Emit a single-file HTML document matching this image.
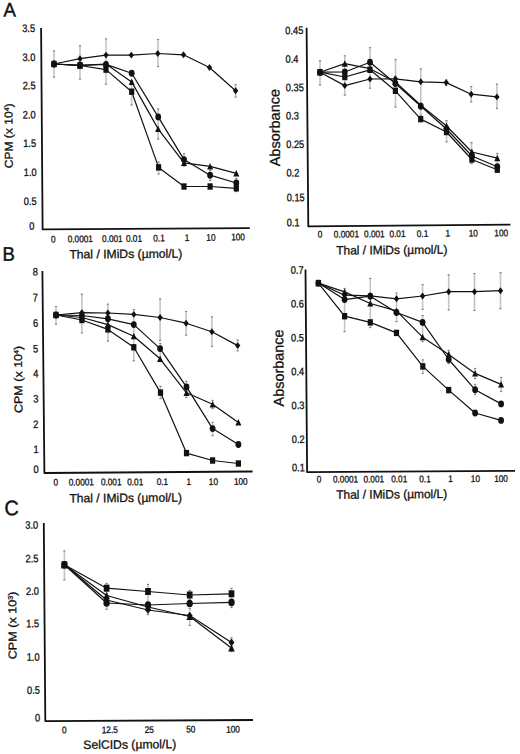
<!DOCTYPE html>
<html><head><meta charset="utf-8"><style>
html,body{margin:0;padding:0;background:#fff;}
body{width:520px;height:754px;overflow:hidden;}
svg{display:block;}
text{font-family:"Liberation Sans", sans-serif;fill:#111;stroke:#111;stroke-width:0.3px;}
</style></head><body>
<svg width="520" height="754" viewBox="0 0 520 754">
<rect width="520" height="754" fill="#fff"/>
<text transform="translate(3.40,16.60) rotate(-0.4) scale(0.95,1)" font-size="19.6" text-anchor="start" style="stroke-width:0.45px">A</text>
<text transform="translate(2.60,260.80) rotate(-0.4) scale(0.95,1)" font-size="19.6" text-anchor="start" style="stroke-width:0.45px">B</text>
<text transform="translate(4.40,515.30) rotate(-0.4) scale(0.94,1)" font-size="21.0" text-anchor="start" style="stroke-width:0.45px">C</text>
<polyline points="41.10,28.10 42.60,229.30 249.80,228.10" fill="none" stroke="#111" stroke-width="1.8" stroke-linejoin="round"/>
<text transform="translate(28.60,32.00) rotate(-0.4) scale(0.86,1)" font-size="10.8" text-anchor="middle">3.5</text>
<text transform="translate(28.90,60.90) rotate(-0.4) scale(0.86,1)" font-size="10.8" text-anchor="middle">3.0</text>
<text transform="translate(29.10,89.30) rotate(-0.4) scale(0.86,1)" font-size="10.8" text-anchor="middle">2.5</text>
<text transform="translate(29.30,118.40) rotate(-0.4) scale(0.86,1)" font-size="10.8" text-anchor="middle">2.0</text>
<text transform="translate(29.60,147.00) rotate(-0.4) scale(0.86,1)" font-size="10.8" text-anchor="middle">1.5</text>
<text transform="translate(30.30,175.90) rotate(-0.4) scale(0.86,1)" font-size="10.8" text-anchor="middle">1.0</text>
<text transform="translate(30.10,205.00) rotate(-0.4) scale(0.86,1)" font-size="10.8" text-anchor="middle">0.5</text>
<text transform="translate(31.80,229.70) rotate(-0.4) scale(0.86,1)" font-size="10.8" text-anchor="middle">0</text>
<text transform="translate(53.30,242.38) rotate(-0.4) scale(0.86,1)" font-size="9.6" text-anchor="middle">0</text>
<text transform="translate(80.30,242.18) rotate(-0.4) scale(0.86,1)" font-size="9.6" text-anchor="middle">0.0001</text>
<text transform="translate(112.40,241.98) rotate(-0.4) scale(0.86,1)" font-size="9.6" text-anchor="middle">0.001</text>
<text transform="translate(134.00,241.78) rotate(-0.4) scale(0.86,1)" font-size="9.6" text-anchor="middle">0.01</text>
<text transform="translate(159.00,241.38) rotate(-0.4) scale(0.86,1)" font-size="9.6" text-anchor="middle">0.1</text>
<text transform="translate(187.00,240.98) rotate(-0.4) scale(0.86,1)" font-size="9.6" text-anchor="middle">1</text>
<text transform="translate(210.90,240.68) rotate(-0.4) scale(0.86,1)" font-size="9.6" text-anchor="middle">10</text>
<text transform="translate(238.00,240.28) rotate(-0.4) scale(0.86,1)" font-size="9.6" text-anchor="middle">100</text>
<text transform="translate(69.40,258.45) rotate(-0.4) scale(1.0,1)" font-size="12.2" text-anchor="start" textLength="113.0" lengthAdjust="spacingAndGlyphs">Thal / IMiDs (µmol/L)</text>
<text transform="translate(12.80,168.30) rotate(-90.4)" x="0" y="0" font-size="11.4" textLength="64.90" lengthAdjust="spacingAndGlyphs">CPM (x 10<tspan font-size="6.6" dy="-3.4">4</tspan><tspan dy="3.4">)</tspan></text>
<line x1="54.00" y1="50.60" x2="54.00" y2="77.50" stroke="#c4c4c4" stroke-width="1.6"/>
<line x1="52.90" y1="51.00" x2="55.10" y2="51.00" stroke="#808080" stroke-width="1.1"/>
<line x1="52.90" y1="77.10" x2="55.10" y2="77.10" stroke="#808080" stroke-width="1.1"/>
<line x1="80.00" y1="45.40" x2="80.00" y2="79.50" stroke="#c4c4c4" stroke-width="1.6"/>
<line x1="78.90" y1="45.80" x2="81.10" y2="45.80" stroke="#808080" stroke-width="1.1"/>
<line x1="78.90" y1="79.10" x2="81.10" y2="79.10" stroke="#808080" stroke-width="1.1"/>
<line x1="106.00" y1="38.50" x2="106.00" y2="84.60" stroke="#c4c4c4" stroke-width="1.6"/>
<line x1="104.90" y1="38.90" x2="107.10" y2="38.90" stroke="#808080" stroke-width="1.1"/>
<line x1="104.90" y1="84.20" x2="107.10" y2="84.20" stroke="#808080" stroke-width="1.1"/>
<line x1="131.60" y1="80.00" x2="131.60" y2="105.40" stroke="#c4c4c4" stroke-width="1.6"/>
<line x1="130.50" y1="80.40" x2="132.70" y2="80.40" stroke="#808080" stroke-width="1.1"/>
<line x1="130.50" y1="105.00" x2="132.70" y2="105.00" stroke="#808080" stroke-width="1.1"/>
<line x1="158.00" y1="39.20" x2="158.00" y2="67.00" stroke="#c4c4c4" stroke-width="1.6"/>
<line x1="156.90" y1="39.60" x2="159.10" y2="39.60" stroke="#808080" stroke-width="1.1"/>
<line x1="156.90" y1="66.60" x2="159.10" y2="66.60" stroke="#808080" stroke-width="1.1"/>
<line x1="158.20" y1="108.50" x2="158.20" y2="139.40" stroke="#c4c4c4" stroke-width="1.6"/>
<line x1="157.10" y1="108.90" x2="159.30" y2="108.90" stroke="#808080" stroke-width="1.1"/>
<line x1="157.10" y1="139.00" x2="159.30" y2="139.00" stroke="#808080" stroke-width="1.1"/>
<line x1="158.60" y1="161.70" x2="158.60" y2="174.40" stroke="#c4c4c4" stroke-width="1.6"/>
<line x1="157.50" y1="162.10" x2="159.70" y2="162.10" stroke="#808080" stroke-width="1.1"/>
<line x1="157.50" y1="174.00" x2="159.70" y2="174.00" stroke="#808080" stroke-width="1.1"/>
<line x1="184.00" y1="153.30" x2="184.00" y2="166.50" stroke="#c4c4c4" stroke-width="1.6"/>
<line x1="182.90" y1="153.70" x2="185.10" y2="153.70" stroke="#808080" stroke-width="1.1"/>
<line x1="182.90" y1="166.10" x2="185.10" y2="166.10" stroke="#808080" stroke-width="1.1"/>
<line x1="210.20" y1="170.00" x2="210.20" y2="181.00" stroke="#c4c4c4" stroke-width="1.6"/>
<line x1="209.10" y1="170.40" x2="211.30" y2="170.40" stroke="#808080" stroke-width="1.1"/>
<line x1="209.10" y1="180.60" x2="211.30" y2="180.60" stroke="#808080" stroke-width="1.1"/>
<line x1="235.60" y1="84.40" x2="235.60" y2="97.50" stroke="#c4c4c4" stroke-width="1.6"/>
<line x1="234.50" y1="84.80" x2="236.70" y2="84.80" stroke="#808080" stroke-width="1.1"/>
<line x1="234.50" y1="97.10" x2="236.70" y2="97.10" stroke="#808080" stroke-width="1.1"/>
<line x1="236.30" y1="178.00" x2="236.30" y2="192.00" stroke="#c4c4c4" stroke-width="1.6"/>
<line x1="235.20" y1="178.40" x2="237.40" y2="178.40" stroke="#808080" stroke-width="1.1"/>
<line x1="235.20" y1="191.60" x2="237.40" y2="191.60" stroke="#808080" stroke-width="1.1"/>
<polyline points="54.00,64.00 80.00,58.70 106.00,55.10 131.30,55.10 157.80,53.50 183.50,54.80 209.50,67.50 235.60,90.80" fill="none" stroke="#111" stroke-width="1.2" stroke-linejoin="round"/>
<polygon points="54.00,60.55 56.65,64.00 54.00,67.45 51.35,64.00" fill="#111"/>
<polygon points="80.00,55.25 82.65,58.70 80.00,62.15 77.35,58.70" fill="#111"/>
<polygon points="106.00,51.65 108.65,55.10 106.00,58.55 103.35,55.10" fill="#111"/>
<polygon points="131.30,51.65 133.95,55.10 131.30,58.55 128.65,55.10" fill="#111"/>
<polygon points="157.80,50.05 160.45,53.50 157.80,56.95 155.15,53.50" fill="#111"/>
<polygon points="183.50,51.35 186.15,54.80 183.50,58.25 180.85,54.80" fill="#111"/>
<polygon points="209.50,64.05 212.15,67.50 209.50,70.95 206.85,67.50" fill="#111"/>
<polygon points="235.60,87.35 238.25,90.80 235.60,94.25 232.95,90.80" fill="#111"/>
<polyline points="54.00,64.00 80.00,65.30 106.00,64.40 131.70,73.30 158.20,116.90 184.00,159.60 210.10,175.20 236.30,183.00" fill="none" stroke="#111" stroke-width="1.2" stroke-linejoin="round"/>
<ellipse cx="54.00" cy="64.00" rx="2.90" ry="3.45" fill="#111"/>
<ellipse cx="80.00" cy="65.30" rx="2.90" ry="3.45" fill="#111"/>
<ellipse cx="106.00" cy="64.40" rx="2.90" ry="3.45" fill="#111"/>
<ellipse cx="131.70" cy="73.30" rx="2.90" ry="3.45" fill="#111"/>
<ellipse cx="158.20" cy="116.90" rx="2.90" ry="3.45" fill="#111"/>
<ellipse cx="184.00" cy="159.60" rx="2.90" ry="3.45" fill="#111"/>
<ellipse cx="210.10" cy="175.20" rx="2.90" ry="3.45" fill="#111"/>
<ellipse cx="236.30" cy="183.00" rx="2.90" ry="3.45" fill="#111"/>
<polyline points="54.00,64.00 80.00,65.40 106.00,64.00 131.70,81.90 158.10,128.90 184.00,162.80 210.10,166.30 236.30,173.30" fill="none" stroke="#111" stroke-width="1.2" stroke-linejoin="round"/>
<polygon points="54.00,60.59 57.00,67.09 51.00,67.09" fill="#111"/>
<polygon points="80.00,61.99 83.00,68.49 77.00,68.49" fill="#111"/>
<polygon points="106.00,60.59 109.00,67.09 103.00,67.09" fill="#111"/>
<polygon points="131.70,78.49 134.70,84.99 128.70,84.99" fill="#111"/>
<polygon points="158.10,125.49 161.10,131.99 155.10,131.99" fill="#111"/>
<polygon points="184.00,159.39 187.00,165.89 181.00,165.89" fill="#111"/>
<polygon points="210.10,162.89 213.10,169.39 207.10,169.39" fill="#111"/>
<polygon points="236.30,169.89 239.30,176.39 233.30,176.39" fill="#111"/>
<polyline points="54.00,64.00 80.00,65.50 106.00,69.60 131.70,91.70 158.60,167.40 184.00,186.50 210.10,186.50 236.30,188.30" fill="none" stroke="#111" stroke-width="1.2" stroke-linejoin="round"/>
<rect x="51.40" y="60.80" width="5.20" height="6.40" fill="#111"/>
<rect x="77.40" y="62.30" width="5.20" height="6.40" fill="#111"/>
<rect x="103.40" y="66.40" width="5.20" height="6.40" fill="#111"/>
<rect x="129.10" y="88.50" width="5.20" height="6.40" fill="#111"/>
<rect x="156.00" y="164.20" width="5.20" height="6.40" fill="#111"/>
<rect x="181.40" y="183.30" width="5.20" height="6.40" fill="#111"/>
<rect x="207.50" y="183.30" width="5.20" height="6.40" fill="#111"/>
<rect x="233.70" y="185.10" width="5.20" height="6.40" fill="#111"/>
<polyline points="306.60,27.80 308.30,226.40 510.40,224.60" fill="none" stroke="#111" stroke-width="1.8" stroke-linejoin="round"/>
<text transform="translate(285.31,34.20) rotate(-0.4) scale(0.86,1)" font-size="10.8" text-anchor="start">0.45</text>
<text transform="translate(285.54,62.85) rotate(-0.4) scale(0.86,1)" font-size="10.8" text-anchor="start">0.4</text>
<text transform="translate(285.76,91.25) rotate(-0.4) scale(0.86,1)" font-size="10.8" text-anchor="start">0.35</text>
<text transform="translate(285.99,119.50) rotate(-0.4) scale(0.86,1)" font-size="10.8" text-anchor="start">0.3</text>
<text transform="translate(286.22,148.05) rotate(-0.4) scale(0.86,1)" font-size="10.8" text-anchor="start">0.25</text>
<text transform="translate(286.45,176.55) rotate(-0.4) scale(0.86,1)" font-size="10.8" text-anchor="start">0.2</text>
<text transform="translate(286.64,201.35) rotate(-0.4) scale(0.86,1)" font-size="10.8" text-anchor="start">0.15</text>
<text transform="translate(286.84,226.35) rotate(-0.4) scale(0.86,1)" font-size="10.8" text-anchor="start">0.1</text>
<text transform="translate(320.00,237.38) rotate(-0.4) scale(0.86,1)" font-size="9.6" text-anchor="middle">0</text>
<text transform="translate(346.40,237.38) rotate(-0.4) scale(0.86,1)" font-size="9.6" text-anchor="middle">0.0001</text>
<text transform="translate(374.40,237.28) rotate(-0.4) scale(0.86,1)" font-size="9.6" text-anchor="middle">0.001</text>
<text transform="translate(397.50,237.08) rotate(-0.4) scale(0.86,1)" font-size="9.6" text-anchor="middle">0.01</text>
<text transform="translate(422.50,236.88) rotate(-0.4) scale(0.86,1)" font-size="9.6" text-anchor="middle">0.1</text>
<text transform="translate(447.90,236.58) rotate(-0.4) scale(0.86,1)" font-size="9.6" text-anchor="middle">1</text>
<text transform="translate(473.30,236.38) rotate(-0.4) scale(0.86,1)" font-size="9.6" text-anchor="middle">10</text>
<text transform="translate(501.20,236.18) rotate(-0.4) scale(0.86,1)" font-size="9.6" text-anchor="middle">100</text>
<text transform="translate(336.20,254.50) rotate(-0.4) scale(1.0,1)" font-size="12.2" text-anchor="start" textLength="111.2" lengthAdjust="spacingAndGlyphs">Thal / IMiDs (µmol/L)</text>
<text transform="translate(280.00,166.30) rotate(-90.4)" x="0" y="0" font-size="14.4" textLength="77.30" lengthAdjust="spacingAndGlyphs">Absorbance</text>
<line x1="320.00" y1="60.30" x2="320.00" y2="85.30" stroke="#c4c4c4" stroke-width="1.6"/>
<line x1="318.90" y1="60.70" x2="321.10" y2="60.70" stroke="#808080" stroke-width="1.1"/>
<line x1="318.90" y1="84.90" x2="321.10" y2="84.90" stroke="#808080" stroke-width="1.1"/>
<line x1="344.80" y1="55.40" x2="344.80" y2="95.50" stroke="#c4c4c4" stroke-width="1.6"/>
<line x1="343.70" y1="55.80" x2="345.90" y2="55.80" stroke="#808080" stroke-width="1.1"/>
<line x1="343.70" y1="95.10" x2="345.90" y2="95.10" stroke="#808080" stroke-width="1.1"/>
<line x1="370.00" y1="47.30" x2="370.00" y2="88.60" stroke="#c4c4c4" stroke-width="1.6"/>
<line x1="368.90" y1="47.70" x2="371.10" y2="47.70" stroke="#808080" stroke-width="1.1"/>
<line x1="368.90" y1="88.20" x2="371.10" y2="88.20" stroke="#808080" stroke-width="1.1"/>
<line x1="395.50" y1="59.20" x2="395.50" y2="107.40" stroke="#c4c4c4" stroke-width="1.6"/>
<line x1="394.40" y1="59.60" x2="396.60" y2="59.60" stroke="#808080" stroke-width="1.1"/>
<line x1="394.40" y1="107.00" x2="396.60" y2="107.00" stroke="#808080" stroke-width="1.1"/>
<line x1="420.80" y1="68.50" x2="420.80" y2="115.40" stroke="#c4c4c4" stroke-width="1.6"/>
<line x1="419.70" y1="68.90" x2="421.90" y2="68.90" stroke="#808080" stroke-width="1.1"/>
<line x1="419.70" y1="115.00" x2="421.90" y2="115.00" stroke="#808080" stroke-width="1.1"/>
<line x1="446.50" y1="120.20" x2="446.50" y2="142.20" stroke="#c4c4c4" stroke-width="1.6"/>
<line x1="445.40" y1="120.60" x2="447.60" y2="120.60" stroke="#808080" stroke-width="1.1"/>
<line x1="445.40" y1="141.80" x2="447.60" y2="141.80" stroke="#808080" stroke-width="1.1"/>
<line x1="446.20" y1="79.50" x2="446.20" y2="86.00" stroke="#c4c4c4" stroke-width="1.6"/>
<line x1="445.10" y1="79.90" x2="447.30" y2="79.90" stroke="#808080" stroke-width="1.1"/>
<line x1="445.10" y1="85.60" x2="447.30" y2="85.60" stroke="#808080" stroke-width="1.1"/>
<line x1="471.50" y1="142.20" x2="471.50" y2="164.00" stroke="#c4c4c4" stroke-width="1.6"/>
<line x1="470.40" y1="142.60" x2="472.60" y2="142.60" stroke="#808080" stroke-width="1.1"/>
<line x1="470.40" y1="163.60" x2="472.60" y2="163.60" stroke="#808080" stroke-width="1.1"/>
<line x1="471.20" y1="86.20" x2="471.20" y2="102.30" stroke="#c4c4c4" stroke-width="1.6"/>
<line x1="470.10" y1="86.60" x2="472.30" y2="86.60" stroke="#808080" stroke-width="1.1"/>
<line x1="470.10" y1="101.90" x2="472.30" y2="101.90" stroke="#808080" stroke-width="1.1"/>
<line x1="496.90" y1="83.80" x2="496.90" y2="108.90" stroke="#c4c4c4" stroke-width="1.6"/>
<line x1="495.80" y1="84.20" x2="498.00" y2="84.20" stroke="#808080" stroke-width="1.1"/>
<line x1="495.80" y1="108.50" x2="498.00" y2="108.50" stroke="#808080" stroke-width="1.1"/>
<line x1="497.30" y1="153.00" x2="497.30" y2="172.00" stroke="#c4c4c4" stroke-width="1.6"/>
<line x1="496.20" y1="153.40" x2="498.40" y2="153.40" stroke="#808080" stroke-width="1.1"/>
<line x1="496.20" y1="171.60" x2="498.40" y2="171.60" stroke="#808080" stroke-width="1.1"/>
<polyline points="320.00,72.20 344.80,85.60 370.00,79.00 395.40,78.80 420.80,81.80 446.20,82.60 471.20,94.20 496.90,96.90" fill="none" stroke="#111" stroke-width="1.2" stroke-linejoin="round"/>
<polygon points="320.00,68.75 322.65,72.20 320.00,75.65 317.35,72.20" fill="#111"/>
<polygon points="344.80,82.15 347.45,85.60 344.80,89.05 342.15,85.60" fill="#111"/>
<polygon points="370.00,75.55 372.65,79.00 370.00,82.45 367.35,79.00" fill="#111"/>
<polygon points="395.40,75.35 398.05,78.80 395.40,82.25 392.75,78.80" fill="#111"/>
<polygon points="420.80,78.35 423.45,81.80 420.80,85.25 418.15,81.80" fill="#111"/>
<polygon points="446.20,79.15 448.85,82.60 446.20,86.05 443.55,82.60" fill="#111"/>
<polygon points="471.20,90.75 473.85,94.20 471.20,97.65 468.55,94.20" fill="#111"/>
<polygon points="496.90,93.45 499.55,96.90 496.90,100.35 494.25,96.90" fill="#111"/>
<polyline points="320.00,72.20 344.80,63.60 370.00,68.70 395.40,82.00 420.80,105.20 446.50,126.00 471.90,152.00 497.30,158.20" fill="none" stroke="#111" stroke-width="1.2" stroke-linejoin="round"/>
<polygon points="320.00,68.79 323.00,75.29 317.00,75.29" fill="#111"/>
<polygon points="344.80,60.19 347.80,66.69 341.80,66.69" fill="#111"/>
<polygon points="370.00,65.29 373.00,71.79 367.00,71.79" fill="#111"/>
<polygon points="395.40,78.59 398.40,85.09 392.40,85.09" fill="#111"/>
<polygon points="420.80,101.79 423.80,108.29 417.80,108.29" fill="#111"/>
<polygon points="446.50,122.59 449.50,129.09 443.50,129.09" fill="#111"/>
<polygon points="471.90,148.59 474.90,155.09 468.90,155.09" fill="#111"/>
<polygon points="497.30,154.79 500.30,161.29 494.30,161.29" fill="#111"/>
<polyline points="320.00,72.20 344.80,72.00 370.00,62.20 395.40,83.50 420.80,106.20 446.50,129.00 471.90,156.00 497.30,166.70" fill="none" stroke="#111" stroke-width="1.2" stroke-linejoin="round"/>
<ellipse cx="320.00" cy="72.20" rx="2.90" ry="3.45" fill="#111"/>
<ellipse cx="344.80" cy="72.00" rx="2.90" ry="3.45" fill="#111"/>
<ellipse cx="370.00" cy="62.20" rx="2.90" ry="3.45" fill="#111"/>
<ellipse cx="395.40" cy="83.50" rx="2.90" ry="3.45" fill="#111"/>
<ellipse cx="420.80" cy="106.20" rx="2.90" ry="3.45" fill="#111"/>
<ellipse cx="446.50" cy="129.00" rx="2.90" ry="3.45" fill="#111"/>
<ellipse cx="471.90" cy="156.00" rx="2.90" ry="3.45" fill="#111"/>
<ellipse cx="497.30" cy="166.70" rx="2.90" ry="3.45" fill="#111"/>
<polyline points="320.00,72.20 344.80,77.00 370.00,69.80 395.40,90.80 420.70,119.10 446.50,132.00 471.90,159.50 497.30,169.70" fill="none" stroke="#111" stroke-width="1.2" stroke-linejoin="round"/>
<rect x="317.40" y="69.00" width="5.20" height="6.40" fill="#111"/>
<rect x="342.20" y="73.80" width="5.20" height="6.40" fill="#111"/>
<rect x="367.40" y="66.60" width="5.20" height="6.40" fill="#111"/>
<rect x="392.80" y="87.60" width="5.20" height="6.40" fill="#111"/>
<rect x="418.10" y="115.90" width="5.20" height="6.40" fill="#111"/>
<rect x="443.90" y="128.80" width="5.20" height="6.40" fill="#111"/>
<rect x="469.30" y="156.30" width="5.20" height="6.40" fill="#111"/>
<rect x="494.70" y="166.50" width="5.20" height="6.40" fill="#111"/>
<polyline points="42.40,271.10 44.40,473.00 252.60,471.50" fill="none" stroke="#111" stroke-width="1.8" stroke-linejoin="round"/>
<text transform="translate(35.31,275.50) rotate(-0.4) scale(0.86,1)" font-size="10.8" text-anchor="middle">8</text>
<text transform="translate(35.41,301.15) rotate(-0.4) scale(0.86,1)" font-size="10.8" text-anchor="middle">7</text>
<text transform="translate(35.51,326.80) rotate(-0.4) scale(0.86,1)" font-size="10.8" text-anchor="middle">6</text>
<text transform="translate(35.62,352.40) rotate(-0.4) scale(0.86,1)" font-size="10.8" text-anchor="middle">5</text>
<text transform="translate(35.72,377.30) rotate(-0.4) scale(0.86,1)" font-size="10.8" text-anchor="middle">4</text>
<text transform="translate(35.82,402.60) rotate(-0.4) scale(0.86,1)" font-size="10.8" text-anchor="middle">3</text>
<text transform="translate(35.92,428.10) rotate(-0.4) scale(0.86,1)" font-size="10.8" text-anchor="middle">2</text>
<text transform="translate(36.02,453.00) rotate(-0.4) scale(0.86,1)" font-size="10.8" text-anchor="middle">1</text>
<text transform="translate(36.10,473.10) rotate(-0.4) scale(0.86,1)" font-size="10.8" text-anchor="middle">0</text>
<text transform="translate(55.90,485.48) rotate(-0.4) scale(0.86,1)" font-size="9.6" text-anchor="middle">0</text>
<text transform="translate(81.30,485.38) rotate(-0.4) scale(0.86,1)" font-size="9.6" text-anchor="middle">0.0001</text>
<text transform="translate(111.20,485.28) rotate(-0.4) scale(0.86,1)" font-size="9.6" text-anchor="middle">0.001</text>
<text transform="translate(135.20,485.18) rotate(-0.4) scale(0.86,1)" font-size="9.6" text-anchor="middle">0.01</text>
<text transform="translate(162.40,485.08) rotate(-0.4) scale(0.86,1)" font-size="9.6" text-anchor="middle">0.1</text>
<text transform="translate(188.70,484.98) rotate(-0.4) scale(0.86,1)" font-size="9.6" text-anchor="middle">1</text>
<text transform="translate(213.40,484.88) rotate(-0.4) scale(0.86,1)" font-size="9.6" text-anchor="middle">10</text>
<text transform="translate(240.80,484.78) rotate(-0.4) scale(0.86,1)" font-size="9.6" text-anchor="middle">100</text>
<text transform="translate(69.40,502.40) rotate(-0.4) scale(1.0,1)" font-size="12.2" text-anchor="start" textLength="112.6" lengthAdjust="spacingAndGlyphs">Thal / IMiDs (µmol/L)</text>
<text transform="translate(22.40,413.10) rotate(-90.4)" x="0" y="0" font-size="11.4" textLength="67.40" lengthAdjust="spacingAndGlyphs">CPM (x 10<tspan font-size="6.6" dy="-3.4">4</tspan><tspan dy="3.4">)</tspan></text>
<line x1="56.00" y1="306.30" x2="56.00" y2="324.60" stroke="#c4c4c4" stroke-width="1.6"/>
<line x1="54.90" y1="306.70" x2="57.10" y2="306.70" stroke="#808080" stroke-width="1.1"/>
<line x1="54.90" y1="324.20" x2="57.10" y2="324.20" stroke="#808080" stroke-width="1.1"/>
<line x1="81.90" y1="293.80" x2="81.90" y2="333.30" stroke="#c4c4c4" stroke-width="1.6"/>
<line x1="80.80" y1="294.20" x2="83.00" y2="294.20" stroke="#808080" stroke-width="1.1"/>
<line x1="80.80" y1="332.90" x2="83.00" y2="332.90" stroke="#808080" stroke-width="1.1"/>
<line x1="107.90" y1="303.80" x2="107.90" y2="341.50" stroke="#c4c4c4" stroke-width="1.6"/>
<line x1="106.80" y1="304.20" x2="109.00" y2="304.20" stroke="#808080" stroke-width="1.1"/>
<line x1="106.80" y1="341.10" x2="109.00" y2="341.10" stroke="#808080" stroke-width="1.1"/>
<line x1="133.80" y1="309.20" x2="133.80" y2="361.20" stroke="#c4c4c4" stroke-width="1.6"/>
<line x1="132.70" y1="309.60" x2="134.90" y2="309.60" stroke="#808080" stroke-width="1.1"/>
<line x1="132.70" y1="360.80" x2="134.90" y2="360.80" stroke="#808080" stroke-width="1.1"/>
<line x1="160.10" y1="298.50" x2="160.10" y2="340.80" stroke="#c4c4c4" stroke-width="1.6"/>
<line x1="159.00" y1="298.90" x2="161.20" y2="298.90" stroke="#808080" stroke-width="1.1"/>
<line x1="159.00" y1="340.40" x2="161.20" y2="340.40" stroke="#808080" stroke-width="1.1"/>
<line x1="160.30" y1="343.00" x2="160.30" y2="362.00" stroke="#c4c4c4" stroke-width="1.6"/>
<line x1="159.20" y1="343.40" x2="161.40" y2="343.40" stroke="#808080" stroke-width="1.1"/>
<line x1="159.20" y1="361.60" x2="161.40" y2="361.60" stroke="#808080" stroke-width="1.1"/>
<line x1="160.50" y1="386.00" x2="160.50" y2="399.00" stroke="#c4c4c4" stroke-width="1.6"/>
<line x1="159.40" y1="386.40" x2="161.60" y2="386.40" stroke="#808080" stroke-width="1.1"/>
<line x1="159.40" y1="398.60" x2="161.60" y2="398.60" stroke="#808080" stroke-width="1.1"/>
<line x1="186.10" y1="311.20" x2="186.10" y2="335.50" stroke="#c4c4c4" stroke-width="1.6"/>
<line x1="185.00" y1="311.60" x2="187.20" y2="311.60" stroke="#808080" stroke-width="1.1"/>
<line x1="185.00" y1="335.10" x2="187.20" y2="335.10" stroke="#808080" stroke-width="1.1"/>
<line x1="186.30" y1="381.00" x2="186.30" y2="398.00" stroke="#c4c4c4" stroke-width="1.6"/>
<line x1="185.20" y1="381.40" x2="187.40" y2="381.40" stroke="#808080" stroke-width="1.1"/>
<line x1="185.20" y1="397.60" x2="187.40" y2="397.60" stroke="#808080" stroke-width="1.1"/>
<line x1="211.90" y1="316.40" x2="211.90" y2="346.70" stroke="#c4c4c4" stroke-width="1.6"/>
<line x1="210.80" y1="316.80" x2="213.00" y2="316.80" stroke="#808080" stroke-width="1.1"/>
<line x1="210.80" y1="346.30" x2="213.00" y2="346.30" stroke="#808080" stroke-width="1.1"/>
<line x1="212.60" y1="400.00" x2="212.60" y2="409.00" stroke="#c4c4c4" stroke-width="1.6"/>
<line x1="211.50" y1="400.40" x2="213.70" y2="400.40" stroke="#808080" stroke-width="1.1"/>
<line x1="211.50" y1="408.60" x2="213.70" y2="408.60" stroke="#808080" stroke-width="1.1"/>
<line x1="212.60" y1="422.00" x2="212.60" y2="436.00" stroke="#c4c4c4" stroke-width="1.6"/>
<line x1="211.50" y1="422.40" x2="213.70" y2="422.40" stroke="#808080" stroke-width="1.1"/>
<line x1="211.50" y1="435.60" x2="213.70" y2="435.60" stroke="#808080" stroke-width="1.1"/>
<line x1="237.70" y1="339.70" x2="237.70" y2="351.30" stroke="#c4c4c4" stroke-width="1.6"/>
<line x1="236.60" y1="340.10" x2="238.80" y2="340.10" stroke="#808080" stroke-width="1.1"/>
<line x1="236.60" y1="350.90" x2="238.80" y2="350.90" stroke="#808080" stroke-width="1.1"/>
<polyline points="56.00,315.00 81.90,312.60 107.90,313.00 133.80,314.40 160.10,317.50 186.10,323.20 211.90,331.70 237.70,345.60" fill="none" stroke="#111" stroke-width="1.2" stroke-linejoin="round"/>
<polygon points="56.00,311.55 58.65,315.00 56.00,318.45 53.35,315.00" fill="#111"/>
<polygon points="81.90,309.15 84.55,312.60 81.90,316.05 79.25,312.60" fill="#111"/>
<polygon points="107.90,309.55 110.55,313.00 107.90,316.45 105.25,313.00" fill="#111"/>
<polygon points="133.80,310.95 136.45,314.40 133.80,317.85 131.15,314.40" fill="#111"/>
<polygon points="160.10,314.05 162.75,317.50 160.10,320.95 157.45,317.50" fill="#111"/>
<polygon points="186.10,319.75 188.75,323.20 186.10,326.65 183.45,323.20" fill="#111"/>
<polygon points="211.90,328.25 214.55,331.70 211.90,335.15 209.25,331.70" fill="#111"/>
<polygon points="237.70,342.15 240.35,345.60 237.70,349.05 235.05,345.60" fill="#111"/>
<polyline points="56.00,315.00 81.90,315.50 107.90,318.80 133.80,324.60 160.10,348.60 186.50,386.90 212.60,428.60 238.40,444.50" fill="none" stroke="#111" stroke-width="1.2" stroke-linejoin="round"/>
<ellipse cx="56.00" cy="315.00" rx="2.90" ry="3.45" fill="#111"/>
<ellipse cx="81.90" cy="315.50" rx="2.90" ry="3.45" fill="#111"/>
<ellipse cx="107.90" cy="318.80" rx="2.90" ry="3.45" fill="#111"/>
<ellipse cx="133.80" cy="324.60" rx="2.90" ry="3.45" fill="#111"/>
<ellipse cx="160.10" cy="348.60" rx="2.90" ry="3.45" fill="#111"/>
<ellipse cx="186.50" cy="386.90" rx="2.90" ry="3.45" fill="#111"/>
<ellipse cx="212.60" cy="428.60" rx="2.90" ry="3.45" fill="#111"/>
<ellipse cx="238.40" cy="444.50" rx="2.90" ry="3.45" fill="#111"/>
<polyline points="56.00,315.00 81.90,317.50 107.90,324.60 133.80,336.20 160.10,358.80 186.50,392.80 212.60,404.30 238.40,422.50" fill="none" stroke="#111" stroke-width="1.2" stroke-linejoin="round"/>
<polygon points="56.00,311.59 59.00,318.09 53.00,318.09" fill="#111"/>
<polygon points="81.90,314.09 84.90,320.59 78.90,320.59" fill="#111"/>
<polygon points="107.90,321.19 110.90,327.69 104.90,327.69" fill="#111"/>
<polygon points="133.80,332.79 136.80,339.29 130.80,339.29" fill="#111"/>
<polygon points="160.10,355.39 163.10,361.89 157.10,361.89" fill="#111"/>
<polygon points="186.50,389.39 189.50,395.89 183.50,395.89" fill="#111"/>
<polygon points="212.60,400.89 215.60,407.39 209.60,407.39" fill="#111"/>
<polygon points="238.40,419.09 241.40,425.59 235.40,425.59" fill="#111"/>
<polyline points="56.00,315.00 81.90,320.00 107.90,329.40 133.80,347.30 160.50,392.60 186.50,453.10 212.60,460.50 238.40,463.50" fill="none" stroke="#111" stroke-width="1.2" stroke-linejoin="round"/>
<rect x="53.40" y="311.80" width="5.20" height="6.40" fill="#111"/>
<rect x="79.30" y="316.80" width="5.20" height="6.40" fill="#111"/>
<rect x="105.30" y="326.20" width="5.20" height="6.40" fill="#111"/>
<rect x="131.20" y="344.10" width="5.20" height="6.40" fill="#111"/>
<rect x="157.90" y="389.40" width="5.20" height="6.40" fill="#111"/>
<rect x="183.90" y="449.90" width="5.20" height="6.40" fill="#111"/>
<rect x="210.00" y="457.30" width="5.20" height="6.40" fill="#111"/>
<rect x="235.80" y="460.30" width="5.20" height="6.40" fill="#111"/>
<polyline points="305.50,269.50 307.10,472.10 515.00,470.80" fill="none" stroke="#111" stroke-width="1.8" stroke-linejoin="round"/>
<text transform="translate(290.70,273.75) rotate(-0.4) scale(0.86,1)" font-size="10.8" text-anchor="start">0.7</text>
<text transform="translate(290.90,307.45) rotate(-0.4) scale(0.86,1)" font-size="10.8" text-anchor="start">0.6</text>
<text transform="translate(291.11,341.45) rotate(-0.4) scale(0.86,1)" font-size="10.8" text-anchor="start">0.5</text>
<text transform="translate(291.31,375.30) rotate(-0.4) scale(0.86,1)" font-size="10.8" text-anchor="start">0.4</text>
<text transform="translate(291.51,409.15) rotate(-0.4) scale(0.86,1)" font-size="10.8" text-anchor="start">0.3</text>
<text transform="translate(291.72,443.00) rotate(-0.4) scale(0.86,1)" font-size="10.8" text-anchor="start">0.2</text>
<text transform="translate(291.89,471.25) rotate(-0.4) scale(0.86,1)" font-size="10.8" text-anchor="start">0.1</text>
<text transform="translate(319.00,482.58) rotate(-0.4) scale(0.86,1)" font-size="9.6" text-anchor="middle">0</text>
<text transform="translate(345.60,482.48) rotate(-0.4) scale(0.86,1)" font-size="9.6" text-anchor="middle">0.0001</text>
<text transform="translate(373.80,482.38) rotate(-0.4) scale(0.86,1)" font-size="9.6" text-anchor="middle">0.001</text>
<text transform="translate(399.20,482.28) rotate(-0.4) scale(0.86,1)" font-size="9.6" text-anchor="middle">0.01</text>
<text transform="translate(425.00,482.18) rotate(-0.4) scale(0.86,1)" font-size="9.6" text-anchor="middle">0.1</text>
<text transform="translate(450.60,482.08) rotate(-0.4) scale(0.86,1)" font-size="9.6" text-anchor="middle">1</text>
<text transform="translate(475.40,481.98) rotate(-0.4) scale(0.86,1)" font-size="9.6" text-anchor="middle">10</text>
<text transform="translate(501.00,481.88) rotate(-0.4) scale(0.86,1)" font-size="9.6" text-anchor="middle">100</text>
<text transform="translate(336.20,498.80) rotate(-0.4) scale(1.0,1)" font-size="12.2" text-anchor="start" textLength="111.0" lengthAdjust="spacingAndGlyphs">Thal / IMiDs (µmol/L)</text>
<text transform="translate(283.80,406.50) rotate(-90.4)" x="0" y="0" font-size="14.4" textLength="77.10" lengthAdjust="spacingAndGlyphs">Absorbance</text>
<line x1="344.60" y1="288.00" x2="344.60" y2="332.00" stroke="#c4c4c4" stroke-width="1.6"/>
<line x1="343.50" y1="288.40" x2="345.70" y2="288.40" stroke="#808080" stroke-width="1.1"/>
<line x1="343.50" y1="331.60" x2="345.70" y2="331.60" stroke="#808080" stroke-width="1.1"/>
<line x1="370.30" y1="278.00" x2="370.30" y2="328.00" stroke="#c4c4c4" stroke-width="1.6"/>
<line x1="369.20" y1="278.40" x2="371.40" y2="278.40" stroke="#808080" stroke-width="1.1"/>
<line x1="369.20" y1="327.60" x2="371.40" y2="327.60" stroke="#808080" stroke-width="1.1"/>
<line x1="396.50" y1="292.70" x2="396.50" y2="322.00" stroke="#c4c4c4" stroke-width="1.6"/>
<line x1="395.40" y1="293.10" x2="397.60" y2="293.10" stroke="#808080" stroke-width="1.1"/>
<line x1="395.40" y1="321.60" x2="397.60" y2="321.60" stroke="#808080" stroke-width="1.1"/>
<line x1="422.60" y1="284.30" x2="422.60" y2="309.70" stroke="#c4c4c4" stroke-width="1.6"/>
<line x1="421.50" y1="284.70" x2="423.70" y2="284.70" stroke="#808080" stroke-width="1.1"/>
<line x1="421.50" y1="309.30" x2="423.70" y2="309.30" stroke="#808080" stroke-width="1.1"/>
<line x1="422.60" y1="315.00" x2="422.60" y2="342.00" stroke="#c4c4c4" stroke-width="1.6"/>
<line x1="421.50" y1="315.40" x2="423.70" y2="315.40" stroke="#808080" stroke-width="1.1"/>
<line x1="421.50" y1="341.60" x2="423.70" y2="341.60" stroke="#808080" stroke-width="1.1"/>
<line x1="422.80" y1="359.50" x2="422.80" y2="373.80" stroke="#c4c4c4" stroke-width="1.6"/>
<line x1="421.70" y1="359.90" x2="423.90" y2="359.90" stroke="#808080" stroke-width="1.1"/>
<line x1="421.70" y1="373.40" x2="423.90" y2="373.40" stroke="#808080" stroke-width="1.1"/>
<line x1="448.70" y1="274.40" x2="448.70" y2="310.30" stroke="#c4c4c4" stroke-width="1.6"/>
<line x1="447.60" y1="274.80" x2="449.80" y2="274.80" stroke="#808080" stroke-width="1.1"/>
<line x1="447.60" y1="309.90" x2="449.80" y2="309.90" stroke="#808080" stroke-width="1.1"/>
<line x1="448.70" y1="350.00" x2="448.70" y2="364.00" stroke="#c4c4c4" stroke-width="1.6"/>
<line x1="447.60" y1="350.40" x2="449.80" y2="350.40" stroke="#808080" stroke-width="1.1"/>
<line x1="447.60" y1="363.60" x2="449.80" y2="363.60" stroke="#808080" stroke-width="1.1"/>
<line x1="474.50" y1="273.10" x2="474.50" y2="310.80" stroke="#c4c4c4" stroke-width="1.6"/>
<line x1="473.40" y1="273.50" x2="475.60" y2="273.50" stroke="#808080" stroke-width="1.1"/>
<line x1="473.40" y1="310.40" x2="475.60" y2="310.40" stroke="#808080" stroke-width="1.1"/>
<line x1="475.10" y1="368.00" x2="475.10" y2="379.00" stroke="#c4c4c4" stroke-width="1.6"/>
<line x1="474.00" y1="368.40" x2="476.20" y2="368.40" stroke="#808080" stroke-width="1.1"/>
<line x1="474.00" y1="378.60" x2="476.20" y2="378.60" stroke="#808080" stroke-width="1.1"/>
<line x1="475.10" y1="384.00" x2="475.10" y2="395.00" stroke="#c4c4c4" stroke-width="1.6"/>
<line x1="474.00" y1="384.40" x2="476.20" y2="384.40" stroke="#808080" stroke-width="1.1"/>
<line x1="474.00" y1="394.60" x2="476.20" y2="394.60" stroke="#808080" stroke-width="1.1"/>
<line x1="500.50" y1="272.30" x2="500.50" y2="309.10" stroke="#c4c4c4" stroke-width="1.6"/>
<line x1="499.40" y1="272.70" x2="501.60" y2="272.70" stroke="#808080" stroke-width="1.1"/>
<line x1="499.40" y1="308.70" x2="501.60" y2="308.70" stroke="#808080" stroke-width="1.1"/>
<line x1="501.10" y1="377.00" x2="501.10" y2="392.00" stroke="#c4c4c4" stroke-width="1.6"/>
<line x1="500.00" y1="377.40" x2="502.20" y2="377.40" stroke="#808080" stroke-width="1.1"/>
<line x1="500.00" y1="391.60" x2="502.20" y2="391.60" stroke="#808080" stroke-width="1.1"/>
<polyline points="318.40,283.10 344.60,295.20 370.30,295.80 396.50,298.80 422.60,296.00 448.70,291.70 474.50,291.70 500.50,290.70" fill="none" stroke="#111" stroke-width="1.2" stroke-linejoin="round"/>
<polygon points="318.40,279.65 321.05,283.10 318.40,286.55 315.75,283.10" fill="#111"/>
<polygon points="344.60,291.75 347.25,295.20 344.60,298.65 341.95,295.20" fill="#111"/>
<polygon points="370.30,292.35 372.95,295.80 370.30,299.25 367.65,295.80" fill="#111"/>
<polygon points="396.50,295.35 399.15,298.80 396.50,302.25 393.85,298.80" fill="#111"/>
<polygon points="422.60,292.55 425.25,296.00 422.60,299.45 419.95,296.00" fill="#111"/>
<polygon points="448.70,288.25 451.35,291.70 448.70,295.15 446.05,291.70" fill="#111"/>
<polygon points="474.50,288.25 477.15,291.70 474.50,295.15 471.85,291.70" fill="#111"/>
<polygon points="500.50,287.25 503.15,290.70 500.50,294.15 497.85,290.70" fill="#111"/>
<polyline points="318.40,283.10 344.60,291.90 370.30,303.50 396.50,310.80 422.60,337.20 448.70,354.40 475.10,373.40 501.10,384.40" fill="none" stroke="#111" stroke-width="1.2" stroke-linejoin="round"/>
<polygon points="318.40,279.69 321.40,286.19 315.40,286.19" fill="#111"/>
<polygon points="344.60,288.49 347.60,294.99 341.60,294.99" fill="#111"/>
<polygon points="370.30,300.09 373.30,306.59 367.30,306.59" fill="#111"/>
<polygon points="396.50,307.39 399.50,313.89 393.50,313.89" fill="#111"/>
<polygon points="422.60,333.79 425.60,340.29 419.60,340.29" fill="#111"/>
<polygon points="448.70,350.99 451.70,357.49 445.70,357.49" fill="#111"/>
<polygon points="475.10,369.99 478.10,376.49 472.10,376.49" fill="#111"/>
<polygon points="501.10,380.99 504.10,387.49 498.10,387.49" fill="#111"/>
<polyline points="318.40,283.10 344.60,299.60 370.30,296.20 396.50,312.50 422.60,322.40 448.70,359.50 475.10,389.70 501.10,403.90" fill="none" stroke="#111" stroke-width="1.2" stroke-linejoin="round"/>
<ellipse cx="318.40" cy="283.10" rx="2.90" ry="3.45" fill="#111"/>
<ellipse cx="344.60" cy="299.60" rx="2.90" ry="3.45" fill="#111"/>
<ellipse cx="370.30" cy="296.20" rx="2.90" ry="3.45" fill="#111"/>
<ellipse cx="396.50" cy="312.50" rx="2.90" ry="3.45" fill="#111"/>
<ellipse cx="422.60" cy="322.40" rx="2.90" ry="3.45" fill="#111"/>
<ellipse cx="448.70" cy="359.50" rx="2.90" ry="3.45" fill="#111"/>
<ellipse cx="475.10" cy="389.70" rx="2.90" ry="3.45" fill="#111"/>
<ellipse cx="501.10" cy="403.90" rx="2.90" ry="3.45" fill="#111"/>
<polyline points="318.40,283.10 344.60,316.20 370.30,322.40 396.50,332.90 422.80,366.40 448.70,390.10 475.10,413.00 501.10,420.40" fill="none" stroke="#111" stroke-width="1.2" stroke-linejoin="round"/>
<rect x="315.80" y="279.90" width="5.20" height="6.40" fill="#111"/>
<rect x="342.00" y="313.00" width="5.20" height="6.40" fill="#111"/>
<rect x="367.70" y="319.20" width="5.20" height="6.40" fill="#111"/>
<rect x="393.90" y="329.70" width="5.20" height="6.40" fill="#111"/>
<rect x="420.20" y="363.20" width="5.20" height="6.40" fill="#111"/>
<rect x="446.10" y="386.90" width="5.20" height="6.40" fill="#111"/>
<ellipse cx="475.10" cy="413.00" rx="2.90" ry="3.45" fill="#111"/>
<ellipse cx="501.10" cy="420.40" rx="2.90" ry="3.45" fill="#111"/>
<polyline points="43.80,523.10 45.30,721.10 253.00,720.00" fill="none" stroke="#111" stroke-width="1.8" stroke-linejoin="round"/>
<text transform="translate(38.15,528.60) rotate(-0.4) scale(0.86,1)" font-size="10.8" text-anchor="end">3.0</text>
<text transform="translate(38.52,562.20) rotate(-0.4) scale(0.86,1)" font-size="10.8" text-anchor="end">2.5</text>
<text transform="translate(38.88,594.80) rotate(-0.4) scale(0.86,1)" font-size="10.8" text-anchor="end">2.0</text>
<text transform="translate(39.24,627.15) rotate(-0.4) scale(0.86,1)" font-size="10.8" text-anchor="end">1.5</text>
<text transform="translate(39.61,660.70) rotate(-0.4) scale(0.86,1)" font-size="10.8" text-anchor="end">1.0</text>
<text transform="translate(39.97,693.80) rotate(-0.4) scale(0.86,1)" font-size="10.8" text-anchor="end">0.5</text>
<text transform="translate(40.27,721.40) rotate(-0.4) scale(0.86,1)" font-size="10.8" text-anchor="end">0</text>
<text transform="translate(64.20,733.18) rotate(-0.4) scale(0.86,1)" font-size="9.6" text-anchor="middle">0</text>
<text transform="translate(109.80,733.08) rotate(-0.4) scale(0.86,1)" font-size="9.6" text-anchor="middle">12.5</text>
<text transform="translate(149.30,732.88) rotate(-0.4) scale(0.86,1)" font-size="9.6" text-anchor="middle">25</text>
<text transform="translate(190.80,732.58) rotate(-0.4) scale(0.86,1)" font-size="9.6" text-anchor="middle">50</text>
<text transform="translate(233.00,732.58) rotate(-0.4) scale(0.86,1)" font-size="9.6" text-anchor="middle">100</text>
<text transform="translate(83.30,748.90) rotate(-0.4) scale(1.0,1)" font-size="12.2" text-anchor="start" textLength="93.0" lengthAdjust="spacingAndGlyphs">SelCIDs (µmol/L)</text>
<text transform="translate(16.60,659.20) rotate(-90.4)" x="0" y="0" font-size="11.4" textLength="67.60" lengthAdjust="spacingAndGlyphs">CPM (x 10<tspan font-size="6.6" dy="-3.4">3</tspan><tspan dy="3.4">)</tspan></text>
<line x1="64.40" y1="550.60" x2="64.40" y2="580.20" stroke="#c4c4c4" stroke-width="1.6"/>
<line x1="63.30" y1="551.00" x2="65.50" y2="551.00" stroke="#808080" stroke-width="1.1"/>
<line x1="63.30" y1="579.80" x2="65.50" y2="579.80" stroke="#808080" stroke-width="1.1"/>
<line x1="106.60" y1="583.00" x2="106.60" y2="609.70" stroke="#c4c4c4" stroke-width="1.6"/>
<line x1="105.50" y1="583.40" x2="107.70" y2="583.40" stroke="#808080" stroke-width="1.1"/>
<line x1="105.50" y1="609.30" x2="107.70" y2="609.30" stroke="#808080" stroke-width="1.1"/>
<line x1="148.00" y1="584.00" x2="148.00" y2="615.00" stroke="#c4c4c4" stroke-width="1.6"/>
<line x1="146.90" y1="584.40" x2="149.10" y2="584.40" stroke="#808080" stroke-width="1.1"/>
<line x1="146.90" y1="614.60" x2="149.10" y2="614.60" stroke="#808080" stroke-width="1.1"/>
<line x1="189.70" y1="590.00" x2="189.70" y2="600.00" stroke="#c4c4c4" stroke-width="1.6"/>
<line x1="188.60" y1="590.40" x2="190.80" y2="590.40" stroke="#808080" stroke-width="1.1"/>
<line x1="188.60" y1="599.60" x2="190.80" y2="599.60" stroke="#808080" stroke-width="1.1"/>
<line x1="189.70" y1="608.00" x2="189.70" y2="625.80" stroke="#c4c4c4" stroke-width="1.6"/>
<line x1="188.60" y1="608.40" x2="190.80" y2="608.40" stroke="#808080" stroke-width="1.1"/>
<line x1="188.60" y1="625.40" x2="190.80" y2="625.40" stroke="#808080" stroke-width="1.1"/>
<line x1="231.50" y1="588.00" x2="231.50" y2="608.00" stroke="#c4c4c4" stroke-width="1.6"/>
<line x1="230.40" y1="588.40" x2="232.60" y2="588.40" stroke="#808080" stroke-width="1.1"/>
<line x1="230.40" y1="607.60" x2="232.60" y2="607.60" stroke="#808080" stroke-width="1.1"/>
<line x1="231.50" y1="637.30" x2="231.50" y2="652.00" stroke="#c4c4c4" stroke-width="1.6"/>
<line x1="230.40" y1="637.70" x2="232.60" y2="637.70" stroke="#808080" stroke-width="1.1"/>
<line x1="230.40" y1="651.60" x2="232.60" y2="651.60" stroke="#808080" stroke-width="1.1"/>
<polyline points="64.40,564.80 106.60,603.00 148.00,605.00 189.70,603.50 231.50,602.40" fill="none" stroke="#111" stroke-width="1.2" stroke-linejoin="round"/>
<ellipse cx="64.40" cy="564.80" rx="3.19" ry="3.80" fill="#111"/>
<ellipse cx="106.60" cy="603.00" rx="3.19" ry="3.80" fill="#111"/>
<ellipse cx="148.00" cy="605.00" rx="3.19" ry="3.80" fill="#111"/>
<ellipse cx="189.70" cy="603.50" rx="3.19" ry="3.80" fill="#111"/>
<ellipse cx="231.50" cy="602.40" rx="3.19" ry="3.80" fill="#111"/>
<polyline points="64.40,564.80 106.60,595.50 148.00,607.00 189.70,616.50 231.50,648.00" fill="none" stroke="#111" stroke-width="1.2" stroke-linejoin="round"/>
<polygon points="64.40,561.05 67.70,568.20 61.10,568.20" fill="#111"/>
<polygon points="106.60,591.75 109.90,598.90 103.30,598.90" fill="#111"/>
<polygon points="148.00,603.25 151.30,610.40 144.70,610.40" fill="#111"/>
<polygon points="189.70,612.75 193.00,619.90 186.40,619.90" fill="#111"/>
<polygon points="231.50,644.25 234.80,651.40 228.20,651.40" fill="#111"/>
<polyline points="64.40,564.80 106.60,600.00 148.00,610.00 189.70,615.50 231.50,642.40" fill="none" stroke="#111" stroke-width="1.2" stroke-linejoin="round"/>
<polygon points="64.40,561.00 67.32,564.80 64.40,568.59 61.49,564.80" fill="#111"/>
<polygon points="106.60,596.21 109.52,600.00 106.60,603.79 103.68,600.00" fill="#111"/>
<polygon points="148.00,606.21 150.91,610.00 148.00,613.79 145.09,610.00" fill="#111"/>
<polygon points="189.70,611.71 192.61,615.50 189.70,619.29 186.78,615.50" fill="#111"/>
<polygon points="231.50,638.61 234.41,642.40 231.50,646.19 228.59,642.40" fill="#111"/>
<polyline points="64.40,564.80 106.60,588.20 148.00,591.50 189.70,595.00 231.50,593.80" fill="none" stroke="#111" stroke-width="1.2" stroke-linejoin="round"/>
<rect x="61.54" y="561.28" width="5.72" height="7.04" fill="#111"/>
<rect x="103.74" y="584.68" width="5.72" height="7.04" fill="#111"/>
<rect x="145.14" y="587.98" width="5.72" height="7.04" fill="#111"/>
<rect x="186.84" y="591.48" width="5.72" height="7.04" fill="#111"/>
<rect x="228.64" y="590.28" width="5.72" height="7.04" fill="#111"/>
</svg>
</body></html>
